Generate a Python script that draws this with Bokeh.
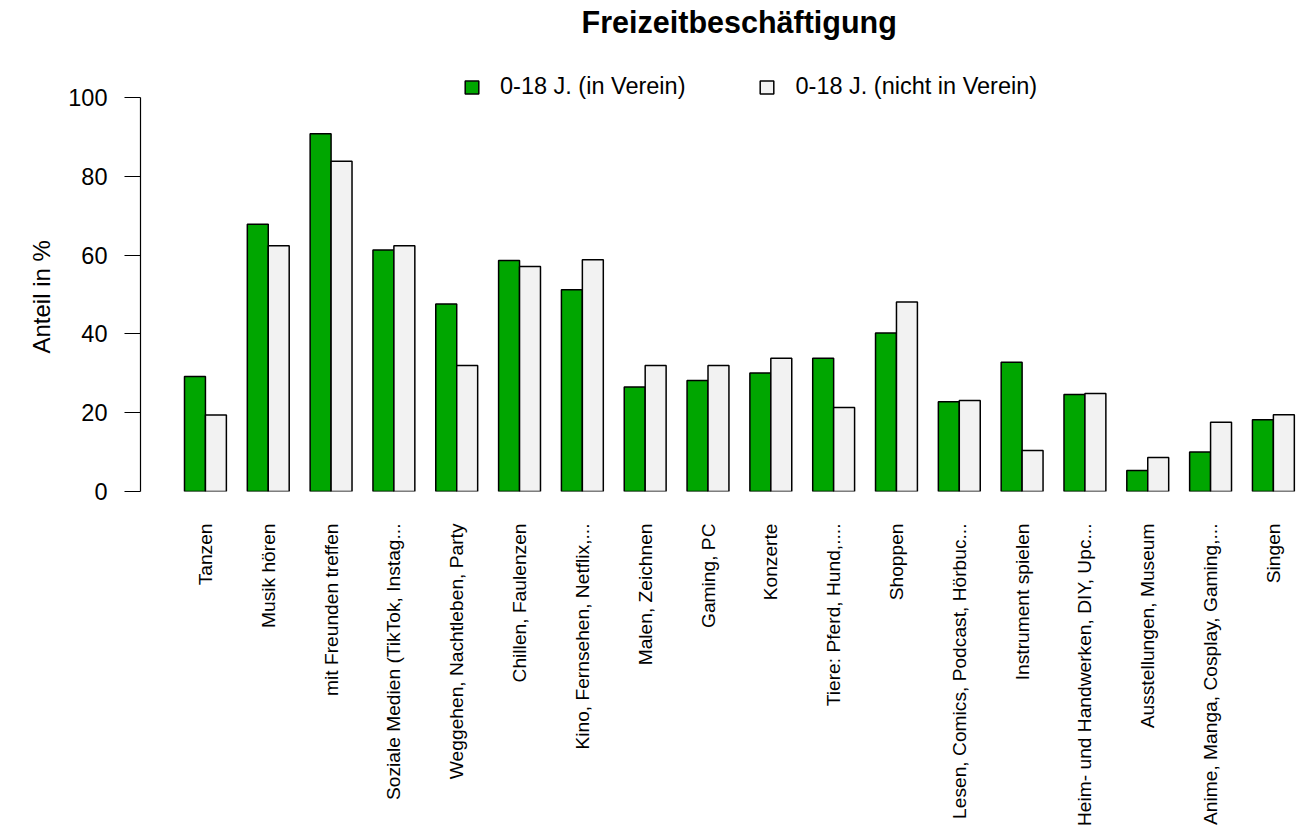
import math
from bokeh.plotting import figure
from bokeh.models import Range1d, FixedTicker, Legend, LegendItem, Label, Title, ColumnDataSource
from bokeh.embed import file_html
from bokeh.resources import INLINE

categories = ["Tanzen", "Musik hören", "mit Freunden treffen", "Soziale Medien (TikTok, Instag...",
              "Weggehen, Nachtleben, Party", "Chillen, Faulenzen", "Kino, Fernsehen, Netflix,...",
              "Malen, Zeichnen", "Gaming, PC", "Konzerte", "Tiere: Pferd, Hund,....", "Shoppen",
              "Lesen, Comics, Podcast, Hörbuc...", "Instrument spielen", "Heim- und Handwerken, DIY, Upc...",
              "Ausstellungen, Museum", "Anime, Manga, Cosplay, Gaming,...", "Singen"]
in_verein = [29.2, 67.8, 90.8, 61.3, 47.6, 58.6, 51.2, 26.5, 28.2, 30.1, 33.8, 40.2, 22.8, 32.8, 24.6, 5.3, 10.0, 18.2]
nicht_in_verein = [19.4, 62.4, 83.8, 62.4, 32.0, 57.1, 58.8, 32.0, 32.0, 33.8, 21.3, 48.1, 23.1, 10.4, 24.9, 8.6, 17.6, 19.5]
series_names = ["0-18 J. (in Verein)", "0-18 J. (nicht in Verein)"]
y_ticks = [0, 20, 40, 60, 80, 100]
title_text = "Freizeitbeschäftigung"
y_label = "Anteil in %"

FONT = "Liberation Sans"
GREEN = "#00A600"
LIGHT = "#F2F2F2"

n = len(categories)
centers = [2 + 3 * i for i in range(n)]
src = ColumnDataSource(dict(
    xg=[c - 0.5 for c in centers], xw=[c + 0.5 for c in centers],
    g=in_verein, w=nicht_in_verein))

p = figure(width=1302, height=830, output_backend="svg", toolbar_location=None,
           x_range=Range1d(-1.101, 54.39), y_range=Range1d(0, 124.62),
           min_border_left=140, min_border_top=0, min_border_bottom=339, min_border_right=0)
p.outline_line_color = None
p.xgrid.visible = False
p.ygrid.visible = False
p.background_fill_color = "white"
p.border_fill_color = "white"

r1 = p.vbar(x="xg", top="g", width=1, bottom=0, source=src, fill_color=GREEN,
            line_color="black", line_width=1.5)
r2 = p.vbar(x="xw", top="w", width=1, bottom=0, source=src, fill_color=LIGHT,
            line_color="black", line_width=1.5)

# y axis
ya = p.yaxis[0]
ya.ticker = FixedTicker(ticks=y_ticks)
ya.bounds = (0, 100)
ya.major_tick_out = 16
ya.major_tick_in = 0
ya.minor_tick_out = 0
ya.minor_tick_in = 0
ya.major_label_standoff = 17
ya.major_label_text_font = FONT
ya.major_label_text_font_size = "23.5px"
ya.major_label_text_color = "black"
ya.axis_line_color = "black"
ya.axis_line_width = 1.2
ya.major_tick_line_width = 1.2

# y axis title, aligned with the 0..100 part of the axis
ytitle = Title(text=y_label, align="left", offset=138, standoff=22,
               text_font=FONT, text_font_size="24px", text_font_style="normal",
               text_color="black")
p.add_layout(ytitle, "left")

# x axis (category labels)
xa = p.xaxis[0]
xa.ticker = FixedTicker(ticks=centers)
xa.major_label_overrides = {c: lab for c, lab in zip(centers, categories)}
xa.major_label_orientation = math.pi / 2
xa.axis_line_color = None
xa.major_tick_line_color = None
xa.minor_tick_line_color = None
xa.major_tick_out = 0
xa.major_tick_in = 0
xa.major_label_standoff = 32
xa.major_label_text_font = FONT
xa.major_label_text_font_size = "19.2px"
xa.major_label_text_color = "black"

# title
title = Label(x=27.49, y=119.1, text=title_text, text_font=FONT,
              text_font_size="30.5px", text_font_style="bold", text_align="center",
              text_baseline="alphabetic", text_color="black")
p.add_layout(title)

legend = Legend(items=[LegendItem(label=series_names[0], renderers=[r1]),
                       LegendItem(label=series_names[1], renderers=[r2])],
                orientation="horizontal", location=(323, 391),
                glyph_width=17, glyph_height=16, label_standoff=20, spacing=73,
                padding=0, margin=0, border_line_alpha=0, background_fill_alpha=0,
                label_text_font=FONT, label_text_font_size="23.5px", label_text_color="black")
p.add_layout(legend, "center")

open("out.html", "w").write(file_html(p, INLINE))
